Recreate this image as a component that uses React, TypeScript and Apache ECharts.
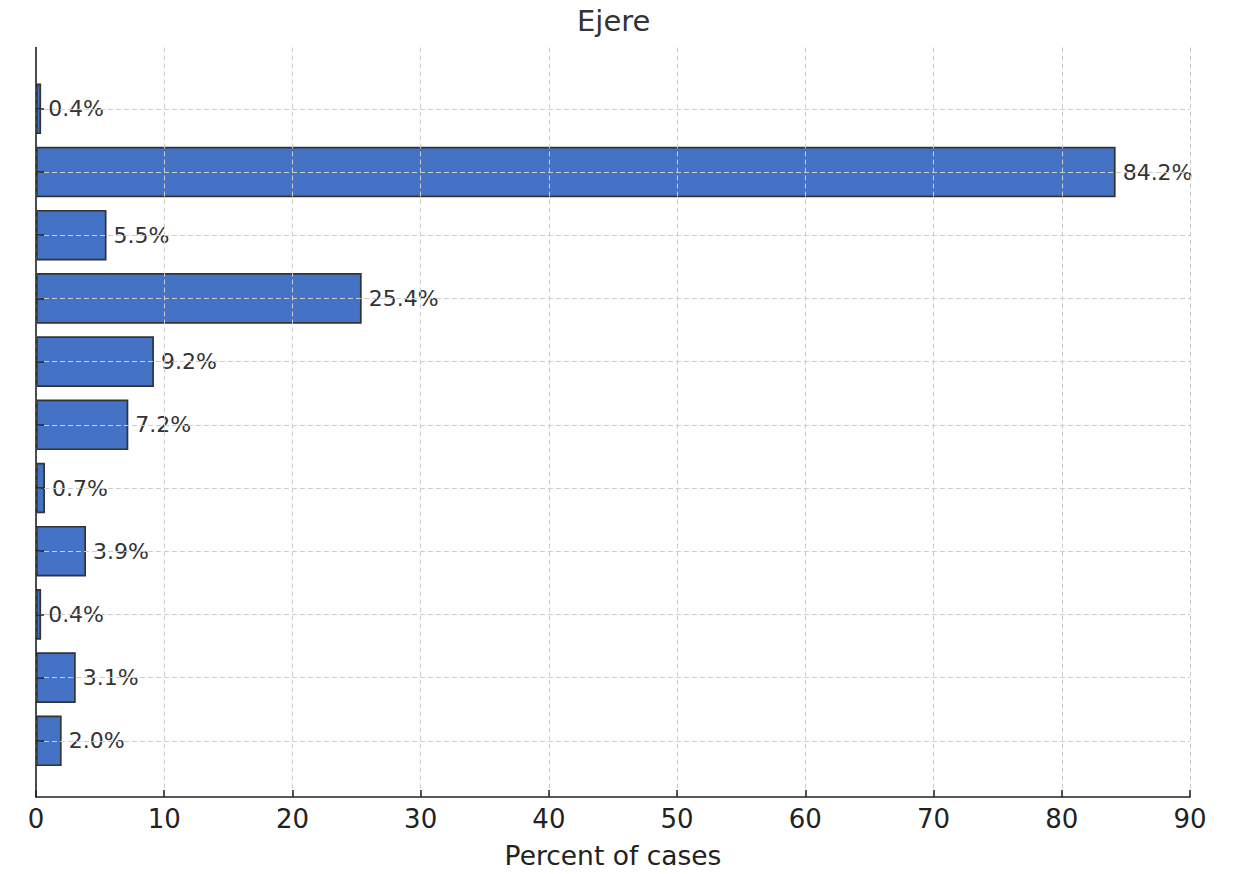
import React, { useEffect, useRef } from "react";
import * as echarts from "echarts";

const title = "Ejere";
const xAxisName = "Percent of cases";
const categories = ["1", "2", "3", "4", "5", "6", "7", "8", "9", "10", "11"];
const values = [0.4, 84.2, 5.5, 25.4, 9.2, 7.2, 0.7, 3.9, 0.4, 3.1, 2.0];
const xMin = 0;
const xMax = 90;
const xInterval = 10;

export default function App() {
  const ref = useRef<HTMLDivElement>(null);
  useEffect(() => {
    document.body.style.margin = "0";
    if (!ref.current) return;
    const chart = echarts.init(ref.current, undefined, { renderer: "svg" });
    const font = "'DejaVu Sans', sans-serif";
    const gridColor = "#cccccc";
    const axisColor = "#222222";
    chart.setOption({
      animation: false,
      backgroundColor: "#ffffff",
      title: {
        text: title,
        left: 572,
        top: 1,
        textStyle: { fontFamily: font, fontSize: 29, fontWeight: "normal", color: "#333333" },
      },
      grid: [
        { left: 36, width: 1154, top: 77.2, height: 695.2 },
        { left: 36, width: 1154, top: 47.5, height: 751 },
      ],
      xAxis: [
        {
          gridIndex: 0,
          type: "value",
          min: xMin,
          max: xMax,
          interval: xInterval,
          show: false,
        },
        {
          gridIndex: 1,
          type: "value",
          min: xMin,
          max: xMax,
          interval: xInterval,
          z: 6,
          name: xAxisName,
          nameLocation: "middle",
          nameGap: 45,
          nameTextStyle: { fontFamily: font, fontSize: 26.5, color: "#222222" },
          axisLine: { show: true, lineStyle: { color: axisColor, width: 1.6 } },
          axisTick: { show: true, inside: true, length: 7, lineStyle: { color: axisColor, width: 1.5 } },
          axisLabel: { fontFamily: font, fontSize: 26, color: "#222222", margin: 9 },
          splitLine: { show: true, lineStyle: { color: gridColor, width: 1, type: [5, 3] } },
        },
      ],
      yAxis: [
        {
          gridIndex: 0,
          type: "category",
          data: categories,
          inverse: true,
          z: 6,
          axisLine: { show: false },
          axisTick: {
            show: true,
            alignWithLabel: true,
            inside: true,
            interval: 0,
            length: 8,
            lineStyle: { color: axisColor, width: 1.5 },
          },
          axisLabel: { show: false },
          splitLine: { show: false },
        },
        {
          gridIndex: 1,
          type: "value",
          min: 0,
          max: 1,
          z: 6,
          axisLine: { show: true, lineStyle: { color: axisColor, width: 1.6 } },
          axisTick: { show: false },
          axisLabel: { show: false },
          splitLine: { show: false },
        },
      ],
      series: [
        {
          type: "bar",
          xAxisIndex: 0,
          yAxisIndex: 0,
          data: values,
          barWidth: "80%",
          itemStyle: { color: "#4472C4", borderColor: "#333333", borderWidth: 1.7 },
          label: {
            show: true,
            position: "right",
            distance: 7,
            fontFamily: font,
            fontSize: 22,
            color: "#333333",
            formatter: (p: any) => `${Number(p.value).toFixed(1)}%`,
          },
          markLine: {
            silent: true,
            symbol: "none",
            z: 5,
            label: { show: false },
            lineStyle: { color: gridColor, width: 1, type: [5, 3] },
            data: categories.map((_, i) => ({ yAxis: i })),
          },
        },
      ],
    });
    return () => chart.dispose();
  }, []);
  return <div ref={ref} style={{ width: 1235, height: 874 }} />;
}
